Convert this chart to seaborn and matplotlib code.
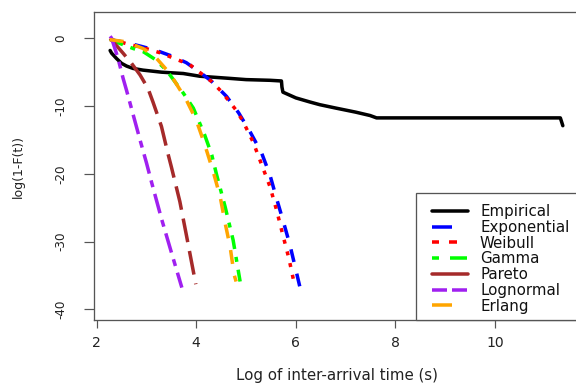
import numpy as np
import pandas as pd
import matplotlib
matplotlib.use("Agg")
import matplotlib.pyplot as plt
import seaborn as sns
from matplotlib.lines import Line2D
from matplotlib.patches import Rectangle

# ---------------- data ----------------
series_names = ["Empirical", "Exponential", "Weibull", "Gamma", "Pareto", "Lognormal", "Erlang"]

emp_x = [2.27, 2.3, 2.4, 2.5, 2.6, 2.73, 2.93, 3.3, 3.74, 4.07, 4.64, 5.0, 5.48, 5.71, 5.72, 5.74,
         6.0, 6.28, 6.48, 6.8, 7.2, 7.49, 7.62, 9.0, 11.31, 11.33, 11.36]
emp_y = [-1.8, -2.2, -3.0, -3.7, -4.1, -4.45, -4.7, -5.0, -5.2, -5.6, -5.9, -6.1, -6.2, -6.3, -7.2, -7.95,
         -8.8, -9.4, -9.8, -10.3, -10.9, -11.4, -11.75, -11.75, -11.75, -12.2, -12.9]

exp_x = [2.27, 2.57, 2.9, 3.2, 3.5, 3.8, 4.07, 4.3, 4.61, 4.85, 5.08, 5.31, 5.48, 5.61, 5.75, 5.88, 6.0, 6.08]
exp_y = [-0.2, -0.6, -1.2, -1.8, -2.6, -3.6, -5.0, -6.3, -8.6, -11.0, -13.8, -16.9, -20.2, -23.6, -27.1,
         -30.5, -34.2, -36.7]

wei_x = [2.27, 2.6, 3.03, 3.3, 3.6, 3.87, 4.1, 4.31, 4.51, 4.81, 4.94, 5.14, 5.31, 5.48, 5.61, 5.73, 5.86, 5.97]
wei_y = [-0.1, -0.8, -1.6, -2.2, -3.1, -3.9, -5.2, -6.4, -7.9, -10.7, -12.3, -15.3, -18.6, -21.9, -25.3,
         -28.8, -32.5, -36.3]

gam_x = [2.27, 2.46, 2.73, 2.94, 3.17, 3.4, 3.74, 3.94, 4.17, 4.31, 4.41, 4.58, 4.74, 4.88]
gam_y = [-0.1, -0.75, -1.5, -2.0, -3.1, -4.7, -8.1, -10.3, -14.3, -17.2, -20.2, -24.9, -29.8, -35.9]

par_x = [2.27, 2.33, 2.53, 2.7, 2.87, 3.03, 3.13, 3.3, 3.43, 3.5, 3.67, 3.8, 3.99]
par_y = [0.0, -0.5, -2.2, -3.7, -5.4, -7.4, -9.4, -13.0, -17.0, -19.0, -24.1, -29.0, -36.3]

lgn_x = [2.27, 2.3, 2.43, 2.53, 2.6, 2.7, 2.87, 3.0, 3.1, 3.3, 3.5, 3.71]
lgn_y = [0.3, 0.0, -3.0, -5.9, -7.7, -10.4, -15.0, -18.4, -21.2, -26.6, -31.6, -36.8]

erl_x = [2.26, 2.57, 2.93, 3.17, 3.47, 3.8, 4.0, 4.17, 4.34, 4.48, 4.58, 4.68, 4.76, 4.80]
erl_y = [-0.2, -0.5, -1.5, -2.7, -5.2, -9.1, -12.1, -15.7, -19.7, -23.4, -27.3, -30.8, -34.9, -35.9]

x_ticks = [2, 4, 6, 8, 10]
x_tick_labels = ["2", "4", "6", "8", "10"]
y_ticks = [0, -10, -20, -30, -40]
y_tick_labels = ["0", "-10", "-20", "-30", "-40"]

# ---------------- styling ----------------
colors = {"Empirical": "#000000", "Exponential": "#0000FF", "Weibull": "#FF0000",
          "Gamma": "#00FF00", "Pareto": "#A52A2A", "Lognormal": "#A020F0", "Erlang": "#FFA500"}
dashes = {"Empirical": "", "Exponential": (13, 12), "Weibull": (4, 8), "Gamma": (14, 8, 5, 8),
          "Pareto": (24, 9), "Lognormal": (20, 7, 7, 7), "Erlang": (14, 12)}
legend_dashes = {"Empirical": None, "Exponential": (20, 20), "Weibull": (7, 10, 8, 20),
                 "Gamma": (7, 11, 17, 10), "Pareto": None, "Lognormal": (15, 5, 15, 10),
                 "Erlang": (20, 20)}

sns.set_theme(style="ticks")
plt.rcParams["font.family"] = ["DejaVu Sans"]
plt.rcParams["lines.scale_dashes"] = False
plt.rcParams["axes.unicode_minus"] = False

frames = []
for name, xs, ys in zip(series_names,
                        [emp_x, exp_x, wei_x, gam_x, par_x, lgn_x, erl_x],
                        [emp_y, exp_y, wei_y, gam_y, par_y, lgn_y, erl_y]):
    frames.append(pd.DataFrame({"series": name, "x": xs, "y": ys}))
df = pd.concat(frames, ignore_index=True)

W, H = 576, 385
fig = plt.figure(figsize=(W / 72, H / 72), dpi=72)
L, R, T, B = 94, 580, 12, 320
ax = fig.add_axes([L / W, (H - B) / H, (R - L) / W, (B - T) / H])

sns.lineplot(data=df, x="x", y="y", hue="series", style="series",
             hue_order=series_names, style_order=series_names,
             palette=colors, dashes=dashes, sort=False, estimator=None,
             linewidth=3.5, legend=False, ax=ax)

ax.set_xlim(1.946, 11.705)
ax.set_ylim(-41.58, 3.88)

ax.set_xticks(x_ticks)
ax.set_xticklabels(x_tick_labels)
ax.set_yticks(y_ticks)
ax.set_yticklabels(y_tick_labels, rotation=90, va="center")

spine_col = "#555555"
for s in ax.spines.values():
    s.set_color(spine_col)
    s.set_linewidth(1.3)
ax.tick_params(axis="x", length=8, width=1.2, color=spine_col, pad=8, labelsize=14, labelcolor="#222222")
ax.tick_params(axis="y", length=10, width=1.2, color=spine_col, pad=17, labelsize=12, labelcolor="#222222")

ax.set_xlabel("Log of inter-arrival time (s)", fontsize=15, color="#222222")
ax.xaxis.set_label_coords(0.5, -0.156)
ax.set_ylabel("log(1-F(t))", fontsize=12.5, color="#222222")
ax.yaxis.set_label_coords(-0.142, 0.5)

# legend frame + legend
ax.add_patch(Rectangle(((416 - L) / (R - L), 0), 1, (B - 193) / (B - T), transform=ax.transAxes,
                       facecolor="white", edgecolor=spine_col, lw=1.3, zorder=4, clip_on=False))
handles = []
for name in series_names:
    ln = Line2D([], [], color=colors[name], lw=3.5)
    if legend_dashes[name] is not None:
        ln.set_dashes(legend_dashes[name])
    handles.append(ln)
leg = ax.legend(handles, series_names, loc="upper left",
                bbox_to_anchor=((432 - L) / (R - L), (B - 204) / (B - T)),
                frameon=False, borderpad=0, borderaxespad=0, fontsize=15,
                handlelength=2.4, handletextpad=0.8, labelspacing=0.05)
for t in leg.get_texts():
    t.set_color("#111111")
leg.set_zorder(5)

fig.savefig("out.png", dpi=72)
